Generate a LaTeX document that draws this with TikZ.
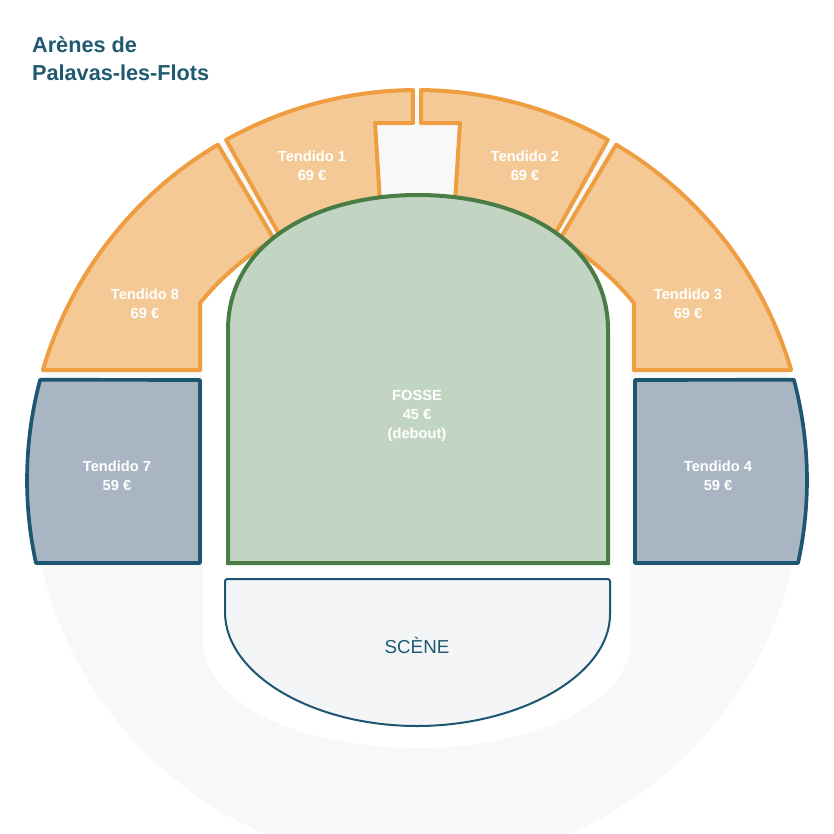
\documentclass[tikz,border=0pt]{standalone}
\usepackage{fontspec}
\setmainfont{Liberation Sans}
\definecolor{obg}{HTML}{F4C995}
\definecolor{obd}{HTML}{EE9E40}
\definecolor{bbg}{HTML}{A9B5C3}
\definecolor{bbd}{HTML}{1C5670}
\definecolor{gbg}{HTML}{C2D5C2}
\definecolor{gbd}{HTML}{4A7D45}
\definecolor{lbg}{HTML}{F8F8F9}
\definecolor{sbg}{HTML}{F3F5F7}
\definecolor{ttl}{HTML}{1F5A70}
\tikzset{
 osec/.style={fill=obg,draw=obd,line width=0.12cm,line join=round},
 bsec/.style={fill=bbg,draw=bbd,line width=0.11cm,line join=round},
 lbl/.style={text=white,font=\bfseries\fontsize{12.5}{16}\selectfont,align=center},
}
\begin{document}
\begin{tikzpicture}[x=0.03cm,y=-0.03cm]
\useasboundingbox (0,0) rectangle (834,834);
\begin{scope}
\clip (0,0) rectangle (834,834);
\fill[lbg] (417,480) circle[radius=385];
\end{scope}
% white region
\fill[white] (203,299) -- plot[domain=139.8:40.2,samples=40,variable=\a] ({417+280*cos(\a)},{480-280*sin(\a)}) -- (631,640) .. controls (631,705) and (530,748) .. (417,748) .. controls (304,748) and (203,705) .. (203,640) -- cycle;
% notch
\fill[lbg] (375,123) -- (460,123) -- (455,202) -- (380,202) -- cycle;
% Tendido 8
\draw[osec] (200,370) -- (43,370) -- plot[domain=163.6:120.7,samples=40,variable=\a] ({417+390*cos(\a)},{480-390*sin(\a)}) -- plot[domain=120.7:140.8,samples=30,variable=\a] ({417+280*cos(\a)},{480-280*sin(\a)}) -- (200,303) -- cycle;
% Tendido 3
\draw[osec] (634,370) -- (791,370) -- plot[domain=16.4:59.3,samples=40,variable=\a] ({417+390*cos(\a)},{480-390*sin(\a)}) -- plot[domain=59.3:39.2,samples=30,variable=\a] ({417+280*cos(\a)},{480-280*sin(\a)}) -- (634,303) -- cycle;
% Tendido 1
\draw[osec] plot[domain=119.3:90.6,samples=40,variable=\a] ({417+390*cos(\a)},{480-390*sin(\a)}) -- (413,123) -- (375,123) -- (380,202) -- plot[domain=97.6:119.3,samples=30,variable=\a] ({417+280*cos(\a)},{480-280*sin(\a)}) -- cycle;
% Tendido 2
\draw[osec] plot[domain=60.7:89.4,samples=40,variable=\a] ({417+390*cos(\a)},{480-390*sin(\a)}) -- (421,123) -- (460,123) -- (455,202) -- plot[domain=82.4:60.7,samples=30,variable=\a] ({417+280*cos(\a)},{480-280*sin(\a)}) -- cycle;
% Tendido 7
\draw[bsec] (200,380) -- (200,563) -- plot[domain=192.3:165.1,samples=30,variable=\a] ({417+390*cos(\a)},{480-390*sin(\a)}) -- cycle;
% Tendido 4
\draw[bsec] (635,380) -- (635,563) -- plot[domain=-12.3:14.9,samples=30,variable=\a] ({417+390*cos(\a)},{480-390*sin(\a)}) -- cycle;
% Fosse
\draw[fill=gbg,draw=gbd,line width=0.12cm] (228,563) -- (228,330) .. controls (228,240) and (320,195) .. (418,195) .. controls (516,195) and (608,240) .. (608,330) -- (608,563) -- cycle;
% Scene
\draw[fill=sbg,draw=bbd,line width=0.06cm,rounded corners=2] (225,612) -- (225,579) -- (610,579) -- (610,612) [sharp corners] .. controls (610,675) and (520,726) .. (417,726) .. controls (314,726) and (225,675) .. (225,612);
% labels
\node[anchor=west,text=ttl,font=\bfseries\fontsize{18.5}{23}\selectfont] (t1) at (28,45) {Arènes de};
\node[anchor=west,text=ttl,font=\bfseries\fontsize{18.5}{23}\selectfont] (t2) at (28,73) {Palavas-les-Flots};
\node[lbl] (n1) at (312,166) {Tendido 1\\69 €};
\node[lbl] (n2) at (525,166) {Tendido 2\\69 €};
\node[lbl] (n8) at (145,304) {Tendido 8\\69 €};
\node[lbl] (n3) at (688,304) {Tendido 3\\69 €};
\node[lbl] (n7) at (117,476) {Tendido 7\\59 €};
\node[lbl] (n4) at (718,476) {Tendido 4\\59 €};
\node[lbl] (nf) at (417,416) {FOSSE\\45 €\\(debout)};
\node[text=ttl,font=\fontsize{16}{20}\selectfont] (ns) at (417,645) {SCÈNE};
\end{tikzpicture}
\end{document}
